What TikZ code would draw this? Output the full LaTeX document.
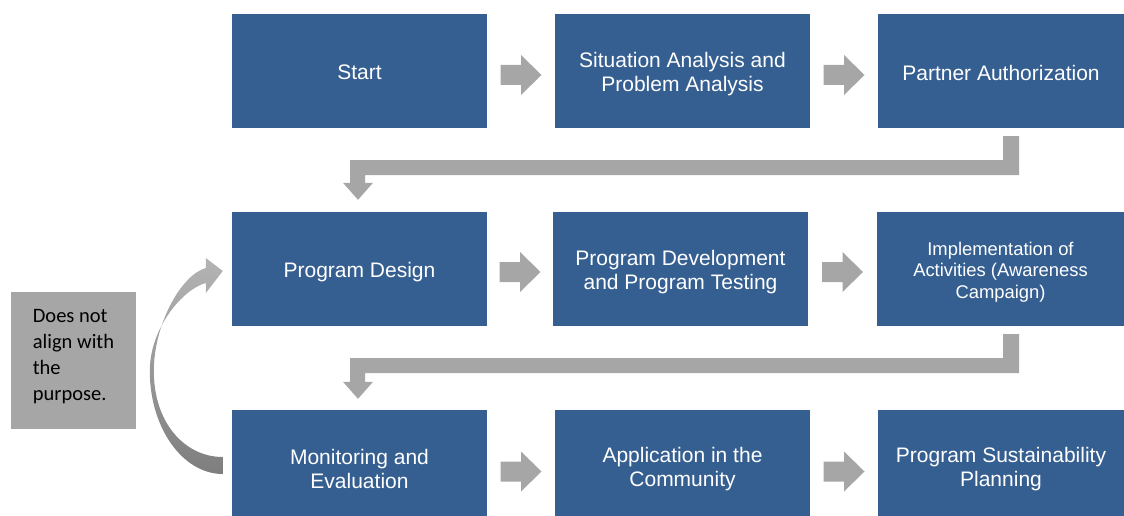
\documentclass[tikz,border=0pt]{standalone}
\usepackage{fontspec}
\setmainfont{Liberation Sans}
\newfontfamily\carlito{Carlito}
\usetikzlibrary{calc}
\definecolor{boxblue}{HTML}{365F91}
\definecolor{arrowgray}{HTML}{A6A6A6}
\definecolor{notegray}{HTML}{A6A6A6}
\definecolor{curvetop}{HTML}{B4B4B4}
\definecolor{curvebot}{HTML}{7E7E7E}
\newcommand\liftto[1]{\rule{0pt}{#1}}
\tikzset{
  stepbox/.style={fill=boxblue, draw=none, text=white, align=center, inner sep=2pt,
    font=\fontsize{21}{24}\selectfont},
  notebox/.style={fill=notegray, draw=none, text=black, align=left,
    font=\carlito\fontsize{20.5}{26.2}\selectfont, inner sep=0pt,
    minimum height=137pt, minimum width=125pt},
}
\newcommand\blkarrow[3]{%
  \fill[arrowgray] ($(#1.east)!0.5!(#2.west)+(0,#3)$) ++(-20.5,-10) -- ++(20.5,0)
    -- ++(0,-10) -- ++(20.5,20) -- ++(-20.5,20) -- ++(0,-10) -- ++(-20.5,0) -- cycle;}
\begin{document}
\begin{tikzpicture}[x=1pt,y=-1pt]
\useasboundingbox (0,0) rectangle (1124,516);
% row 1
\node[stepbox, minimum width=255pt, minimum height=114pt] (b1) at (359.5,71) {\liftto{17.5pt}Start};
\node[stepbox, minimum width=255pt, minimum height=114pt] (b2) at (682.5,71) {\liftto{21.5pt}Situation Analysis and\\Problem Analysis};
\node[stepbox, minimum width=246pt, minimum height=114pt] (b3) at (1001,71) {\liftto{19.5pt}Partner Authorization};
% row 2
\node[stepbox, minimum width=255pt, minimum height=114pt] (b4) at (359.5,269) {\liftto{21.5pt}Program Design};
\node[stepbox, minimum width=255pt, minimum height=114pt] (b5) at (680.5,269) {\liftto{21.5pt}Program Development\\and Program Testing};
\node[stepbox, minimum width=247pt, minimum height=114pt, font=\fontsize{18.4}{21.3}\selectfont] (b6) at (1000.5,269) {\liftto{19.5pt}Implementation of\\Activities (Awareness\\Campaign)};
% row 3
\node[stepbox, minimum width=255pt, minimum height=106pt] (b7) at (359.5,463) {\liftto{27.3pt}Monitoring and\\Evaluation};
\node[stepbox, minimum width=255pt, minimum height=106pt] (b8) at (682.5,463) {\liftto{27.3pt}Application in the\\Community};
\node[stepbox, minimum width=246pt, minimum height=106pt] (b9) at (1001,463) {\liftto{27.3pt}Program Sustainability\\Planning};
% note
\node[notebox] (note) at (73.5,360.5) {Does not\\align with\\the\\purpose.\rule[-11pt]{0pt}{11pt}};
% straight arrows
\blkarrow{b1}{b2}{4}
\blkarrow{b2}{b3}{4}
\blkarrow{b4}{b5}{3}
\blkarrow{b5}{b6}{3}
\blkarrow{b7}{b8}{8.5}
\blkarrow{b8}{b9}{8.5}
% elbow connectors
\coordinate (s1) at ($(b3.south)+(2,8)$);
\coordinate (t1) at ($(b4.north)+(-1.5,-12)$);
\fill[arrowgray] (s1) -- ++(16,0) -- ($(s1)+(16,39)$) -- ($(t1 |- s1)+(7,39)$)
  -- ($(t1)+(7,-17)$) -- ($(t1)+(15,-17)$) -- (t1) -- ($(t1)+(-15,-17)$)
  -- ($(t1)+(-8,-17)$) -- ($(t1 |- s1)+(-8,24)$) -- ($(s1)+(0,24)$) -- cycle;
\coordinate (s2) at ($(b6.south)+(2.5,8)$);
\coordinate (t2) at ($(b7.north)+(-1.5,-11)$);
\fill[arrowgray] (s2) -- ++(16,0) -- ($(s2)+(16,39)$) -- ($(t2 |- s2)+(7,39)$)
  -- ($(t2)+(7,-17)$) -- ($(t2)+(15,-17)$) -- (t2) -- ($(t2)+(-15,-17)$)
  -- ($(t2)+(-8,-17)$) -- ($(t2 |- s2)+(-8,24)$) -- ($(s2)+(0,24)$) -- cycle;
% curved return arrow from b7 to b4
\coordinate (cb) at ($(b7.west)+(-9,0)$);
\coordinate (ct) at ($(b4.west)+(-9,0)$);
\shade[top color=curvetop, bottom color=curvebot]
  ($(cb)+(0,11)$) .. controls ($(cb)+(-40,11)$) and ($(cb)+(-73,-35)$) .. ($(cb)+(-73,-92)$)
  .. controls ($(cb)+(-73,-135)$) and ($(ct)+(-40,20)$) .. ($(ct)+(-17,14)$)
  -- ($(ct)+(-17,24)$) -- ($(ct)+(0,2)$) -- ($(ct)+(-17,-11)$) -- ($(ct)+(-17,-1)$)
  .. controls ($(ct)+(-42,6)$) and ($(cb)+(-69,-138)$) .. ($(cb)+(-69,-92)$)
  .. controls ($(cb)+(-69,-40)$) and ($(cb)+(-38,-6)$) .. ($(cb)+(0,-6)$) -- cycle;
\end{tikzpicture}
\end{document}
